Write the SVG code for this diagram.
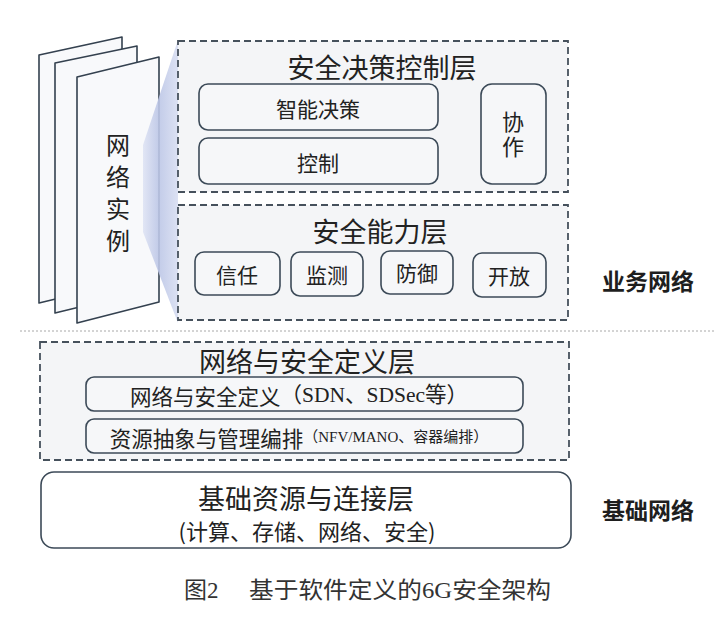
<svg xmlns="http://www.w3.org/2000/svg" width="724" height="621" viewBox="0 0 724 621">
<defs>
<linearGradient id="beam" gradientUnits="userSpaceOnUse" x1="143" y1="0" x2="178" y2="0">
<stop offset="0" stop-color="#dfe4f4"/>
<stop offset="0.45" stop-color="#bcc6e6"/>
<stop offset="1" stop-color="#d8def2"/>
</linearGradient>
<style>
.page{fill:#f8f9fb;stroke:#34414f;stroke-width:1.6;stroke-linejoin:round}
.layer{fill:#f4f5f7;stroke:#46515c;stroke-width:1.8;stroke-dasharray:7 4}
.box{fill:#f6f7f9;stroke:#3c4a58;stroke-width:1.6}
.t{font-family:"Noto Sans CJK SC","Liberation Sans",sans-serif;fill:#222;text-anchor:middle;dominant-baseline:central}
.v{font-family:"Noto Sans CJK SC",sans-serif;fill:#222;text-anchor:middle;writing-mode:vertical-rl}
.s{font-family:"Liberation Serif","Noto Sans CJK SC",serif}
.side{font-family:"Noto Sans CJK SC",sans-serif;font-weight:bold;fill:#1e1e1e;font-size:23px;text-anchor:middle;dominant-baseline:central}
.cap{font-family:"Liberation Serif","Noto Sans CJK SC",serif;fill:#333;font-size:23px;dominant-baseline:central}
</style>
</defs>
<rect width="724" height="621" fill="#ffffff"/>

<g id="network-instances">
<polygon class="page" points="39,55 122,37 122,283 39,303"/>
<polygon class="page" points="55,63 137,46 137,293 55,313"/>
<polygon class="page" points="77,77 159,57 159,302 77,323"/>
<text class="v" font-size="24" letter-spacing="8" x="118" y="197">网络实例</text>
</g>

<g id="projection">
<polygon points="178,40 143,145 143,232 178,323" fill="url(#beam)" opacity="0.9"/>
</g>

<g id="decision-layer">
<rect class="layer" x="178" y="41" width="390" height="151"/>
<text class="t" font-size="27" x="382" y="66">安全决策控制层</text>
<g id="smart-decision">
<rect class="box" x="199" y="84" width="239" height="46" rx="9"/>
<text class="t" font-size="21" x="318" y="108">智能决策</text>
</g>
<g id="control">
<rect class="box" x="199" y="138" width="239" height="46" rx="9"/>
<text class="t" font-size="21" x="318" y="162">控制</text>
</g>
<g id="cooperation">
<rect class="box" x="481" y="84" width="65" height="100" rx="11"/>
<text class="v" font-size="22" letter-spacing="3" x="513" y="136">协作</text>
</g>
</g>

<g id="capability-layer">
<rect class="layer" x="178" y="205" width="390" height="115"/>
<text class="t" font-size="27" x="380" y="230">安全能力层</text>
<g id="trust">
<rect class="box" x="195" y="252" width="85" height="43" rx="9"/>
<text class="t" font-size="21" x="237" y="274">信任</text>
</g>
<g id="monitor">
<rect class="box" x="291" y="252" width="72" height="44" rx="9"/>
<text class="t" font-size="21" x="327" y="274">监测</text>
</g>
<g id="defense">
<rect class="box" x="381" y="251" width="72" height="43" rx="9"/>
<text class="t" font-size="21" x="417" y="272">防御</text>
</g>
<g id="open">
<rect class="box" x="473" y="253" width="73" height="44" rx="9"/>
<text class="t" font-size="21" x="509" y="275">开放</text>
</g>
</g>

<g id="label-business">
<text class="side" x="648" y="280">业务网络</text>
</g>

<g id="separator">
<line x1="20" y1="331" x2="716" y2="331" stroke="#a8a8a8" stroke-width="1" stroke-dasharray="2 2"/>
</g>

<g id="definition-layer">
<rect class="layer" x="40" y="342" width="529" height="118"/>
<text class="t" font-size="27" x="307" y="360">网络与安全定义层</text>
<g id="net-sec-def">
<rect class="box" x="86" y="377" width="437" height="34" rx="8"/>
<text class="t" font-size="21.5" x="299" y="395">网络与安全定义<tspan class="s">（SDN、SDSec等）</tspan></text>
</g>
<g id="resource-orchestration">
<rect class="box" x="86" y="419" width="437" height="34" rx="8"/>
<text class="t" font-size="21.5" x="299" y="437">资源抽象与管理编排<tspan class="s" font-size="15">（NFV/MANO、容器编排）</tspan></text>
</g>
</g>

<g id="base-layer">
<rect class="box" x="41" y="472" width="530" height="76" rx="13" style="fill:#ffffff"/>
<text class="t" font-size="27" x="306" y="497">基础资源与连接层</text>
<text class="t" font-size="22" x="307" y="530">(计算、存储、网络、安全)</text>
</g>

<g id="label-base">
<text class="side" x="648" y="509">基础网络</text>
</g>

<g id="caption">
<text class="cap" x="184" y="590">图2</text>
<text class="cap" x="249" y="590" textLength="302" lengthAdjust="spacingAndGlyphs">基于软件定义的6G安全架构</text>
</g>
</svg>
